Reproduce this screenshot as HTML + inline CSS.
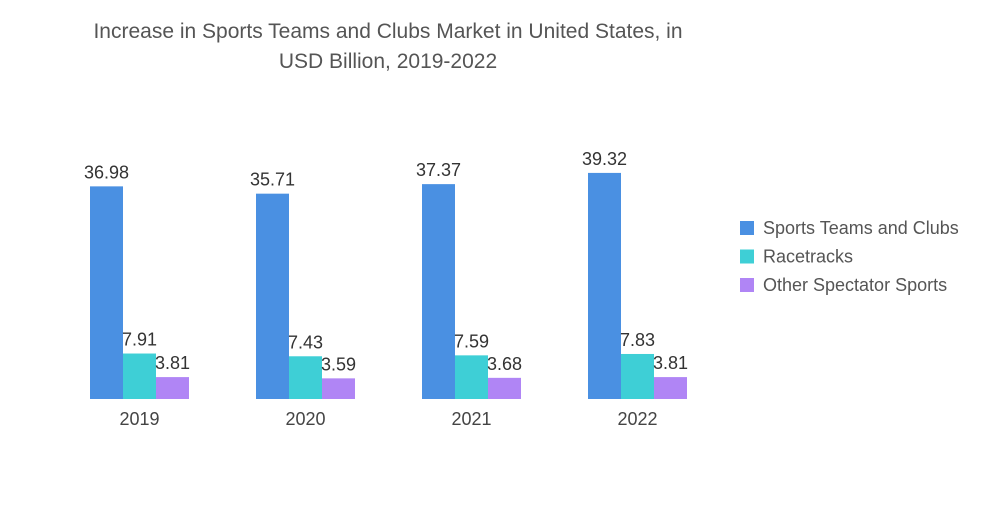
<!DOCTYPE html>
<html><head><meta charset="utf-8"><style>
body{margin:0;background:#fff;font-family:"Liberation Sans",sans-serif;}
svg text{font-family:"Liberation Sans",sans-serif;}
</style></head><body>
<svg id="c" width="1000" height="504">
<text x="388" y="38" text-anchor="middle" font-size="21" fill="#555">Increase in Sports Teams and Clubs Market in United States, in</text>
<text x="388" y="68" text-anchor="middle" font-size="21" fill="#555">USD Billion, 2019-2022</text>
<g id="bars"></g>
<g id="legend"></g>
</svg>
<script>
const categories=["2019","2020","2021","2022"];
const seriesNames=["Sports Teams and Clubs","Racetracks","Other Spectator Sports"];
const sportsTeams=[36.98,35.71,37.37,39.32];
const racetracks=[7.91,7.43,7.59,7.83];
const otherSports=[3.81,3.59,3.68,3.81];
const colors=["#4a90e2","#3ecfd6","#b085f5"];
const series=[sportsTeams,racetracks,otherSports];
const base=399, scale=5.75, barW=33, gap=166, x0=90;
const y=v=>base-v*scale;
const ns="http://www.w3.org/2000/svg";
const g=document.getElementById('bars');
function mk(t,a){const e=document.createElementNS(ns,t);for(const k in a)e.setAttribute(k,a[k]);return e;}
categories.forEach((c,i)=>{
  series.forEach((s,j)=>{
    const bx=x0+i*gap+j*barW;
    const r=mk('rect',{x:bx,y:y(s[i]),width:barW,height:base-y(s[i]),fill:colors[j]});
    
    
    g.appendChild(r);
    const t=mk('text',{x:bx+barW/2,y:y(s[i])-8,'text-anchor':'middle','font-size':18,fill:'#333'});
    t.textContent=s[i].toFixed(2);
    
    
    g.appendChild(t);
  });
  const l=mk('text',{x:x0+i*gap+barW*1.5,y:425,'text-anchor':'middle','font-size':18,fill:'#444'});
  l.textContent=c;
  
  
  g.appendChild(l);
});
const lg=document.getElementById('legend');
seriesNames.forEach((n,j)=>{
  const yy=228+j*28.5;
  const r=mk('rect',{x:740,y:yy-7,width:14,height:14,fill:colors[j]});
  
  
  lg.appendChild(r);
  const t=mk('text',{x:763,y:yy+6,'font-size':18,fill:'#555'});
  t.textContent=n;
  
  
  lg.appendChild(t);
});
</script>
</body></html>
